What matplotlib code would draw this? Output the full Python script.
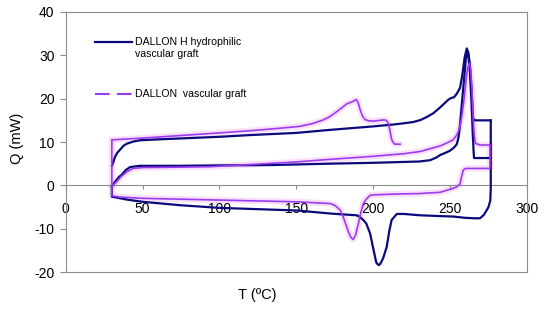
import matplotlib
matplotlib.use("Agg")
import matplotlib.pyplot as plt
from matplotlib.lines import Line2D

plt.rcParams['font.family'] = ['Liberation Sans', 'DejaVu Sans']
plt.rcParams['axes.unicode_minus'] = False

# DALLON H hydrophilic vascular graft (navy): heating 1, cooling, heating 2
h_heat1_T = [30, 31, 32, 33.5, 35.3, 37.5, 39.7, 44, 48.3, 60, 80, 100, 120, 150, 172, 200, 215,
             226, 231, 235, 239, 243, 246.6, 249, 251, 252.5, 254.5, 256.5, 258, 259.5, 260.9, 262,
             263, 264, 265, 266, 276.5]
h_heat1_Q = [4.5, 5.4, 6.5, 7.5, 8.2, 9.1, 9.6, 10.1, 10.4, 10.6, 10.9, 11.2, 11.6, 12.1, 12.8, 13.6, 14.1,
             14.6, 15.1, 15.8, 16.6, 17.8, 19.0, 19.8, 20.2, 20.3, 21.2, 22.5, 25.5, 29.5, 31.6, 30.5,
             27.5, 22.0, 15.5, 15.0, 15.0]
h_cool_T = [276.5, 276.5, 276.2, 275, 273.9, 272, 269.5, 266, 260, 252, 243.6, 230, 220, 215.4, 212,
            210.5, 208.8, 206.5, 204.5, 203.4, 202, 200, 198, 195.5, 193.6, 191, 189, 180, 172, 150,
            125, 100, 75, 50, 40, 33, 30, 30]
h_cool_Q = [15.0, -0.6, -3.5, -5.0, -5.7, -6.8, -7.6, -7.6, -7.5, -7.2, -7.1, -6.9, -6.6, -6.6, -8.0,
            -10.5, -14.2, -16.8, -18.2, -18.4, -17.8, -14.5, -11.1, -8.8, -8.0, -7.2, -6.9, -6.7, -6.5, -5.8,
            -5.5, -5.2, -4.6, -3.8, -3.3, -2.8, -2.6, -0.3]
h_heat2_T = [30, 31, 33, 34.5, 36.4, 39, 41.8, 48, 75, 100, 136, 172, 200, 220, 230, 237, 241, 243.6,
             247, 250, 252.5, 254.4, 255.5, 256.5, 258, 259.5, 260.5, 261.2, 262, 263, 264, 264.8,
             265.3, 265.6, 276.5]
h_heat2_Q = [-0.3, 0.3, 1.2, 1.9, 2.4, 3.5, 4.2, 4.5, 4.5, 4.6, 4.7, 5.0, 5.2, 5.4, 5.5, 5.8, 6.4, 7.0,
             7.5, 8.0, 8.7, 9.5, 11.0, 14.0, 20.0, 26.0, 30.0, 31.0, 29.5, 26.0, 19.0, 12.0,
             8.0, 6.3, 6.3]

# DALLON vascular graft (purple): heating 1, cooling, heating 2
d_heat1_T = [30, 50, 75, 100, 120, 140, 152, 160, 167.6, 172, 176.3, 180, 182.8, 185, 187, 189, 190.3,
             191.5, 193, 194.7, 197, 200, 204, 207.7, 209, 210, 211, 212, 213, 214, 217.5]
d_heat1_Q = [10.5, 10.9, 11.5, 12.1, 12.6, 13.2, 13.6, 14.2, 15.1, 15.9, 17.0, 18.0, 18.8, 19.1, 19.4,
             19.8, 19.0, 17.5, 16.0, 15.2, 14.9, 14.8, 15.0, 15.1, 14.8, 14.2, 12.5, 10.6, 9.9, 9.5, 9.5]
d_cool_T = [276, 276, 268, 260, 258.6, 257.5, 256.5, 254, 252, 243.6, 230, 215, 200, 198, 195.5, 193.6,
            192, 190.4, 188.5, 187, 185.5, 184, 182.8, 180.5, 178.5, 175, 172, 150, 100, 50, 35, 30, 30]
d_cool_Q = [9.3, 3.9, 3.9, 3.9, 3.5, 2.0, 0.3, -0.4, -0.7, -1.6, -1.9, -2.0, -2.2, -2.3, -3.2, -4.2,
            -6.2, -8.8, -11.5, -12.5, -12.0, -10.8, -9.6, -7.3, -5.7, -4.6, -4.2, -3.8, -3.4, -3.0, -2.7, -2.4, 10.5]
d_heat2_T = [30, 30.5, 33, 36, 39.7, 43.8, 50, 75, 94, 120, 150, 172, 200, 220, 230.5, 243.6, 248, 252,
             254.4, 256, 257.5, 259, 260.5, 261.5, 262.6, 263.5, 264.3, 265, 265.8, 266.5, 269.5, 276]
d_heat2_Q = [-0.3, -0.1, 0.8, 2.0, 3.1, 3.9, 4.1, 4.2, 4.3, 4.8, 5.4, 6.0, 6.7, 7.3, 7.8, 9.1, 9.8, 10.5,
             11.6, 13.0, 15.5, 19.5, 24.5, 27.2, 28.2, 26.5, 22.0, 16.0, 11.5, 9.7, 9.3, 9.3]

x_ticks = [0, 50, 100, 150, 200, 250, 300]
y_ticks = [-20, -10, 0, 10, 20, 30, 40]

navy = '#0a0a7a'
purple = '#9b3cf2'
halo = '#f8d2f8'
grey = '#8c8c8c'

fig = plt.figure(figsize=(5.5, 3.09), dpi=100)
ax = fig.add_axes([0.1195, 0.1197, 0.8385, 0.8415])

for T, Q in [(d_heat1_T, d_heat1_Q), (d_cool_T, d_cool_Q), (d_heat2_T, d_heat2_Q)]:
    ax.plot(T, Q, color=halo, lw=4.5, alpha=0.7, solid_capstyle='round', zorder=1)
for T, Q in [(h_heat1_T, h_heat1_Q), (h_cool_T, h_cool_Q), (h_heat2_T, h_heat2_Q)]:
    ax.plot(T, Q, color=navy, lw=1.6, zorder=3)
for T, Q in [(d_heat1_T, d_heat1_Q), (d_cool_T, d_cool_Q), (d_heat2_T, d_heat2_Q)]:
    ax.plot(T, Q, color=purple, lw=1.2, zorder=4)

ax.set_xlim(0, 300)
ax.set_ylim(-20, 40)
ax.set_xticks(x_ticks)
ax.set_yticks(y_ticks)

ax.spines['bottom'].set_position(('data', 0))
for s in ax.spines.values():
    s.set_color(grey)
    s.set_linewidth(0.8)
ax.axhline(-20, color=grey, lw=0.8, clip_on=False, zorder=0)
ax.tick_params(axis='x', direction='out', length=3, pad=9, color=grey, labelsize=10)
ax.tick_params(axis='y', direction='out', length=4, pad=4, color=grey, labelsize=10)

fig.text(17 / 550, 1 - 138 / 309, 'Q (mW)', rotation=90, ha='center', va='center', fontsize=10.5)
fig.text(257 / 550, 1 - 295 / 309, 'T (ºC)', ha='center', va='center', fontsize=10.5)

# legend drawn by hand to match the original spacing
fig.add_artist(Line2D([95 / 550, 132 / 550], [1 - 42 / 309] * 2, color=navy, lw=1.6))
fig.add_artist(Line2D([95 / 550, 132 / 550], [1 - 94 / 309] * 2, color=purple, lw=1.5,
                      linestyle=(0, (7, 3.5))))
fig.text(135 / 550, 1 - 42 / 309, 'DALLON H hydrophilic', va='center', fontsize=7.6)
fig.text(135 / 550, 1 - 54 / 309, 'vascular graft', va='center', fontsize=7.6)
fig.text(135 / 550, 1 - 94 / 309, 'DALLON  vascular graft', va='center', fontsize=7.6)

fig.savefig('out.png', dpi=100)
